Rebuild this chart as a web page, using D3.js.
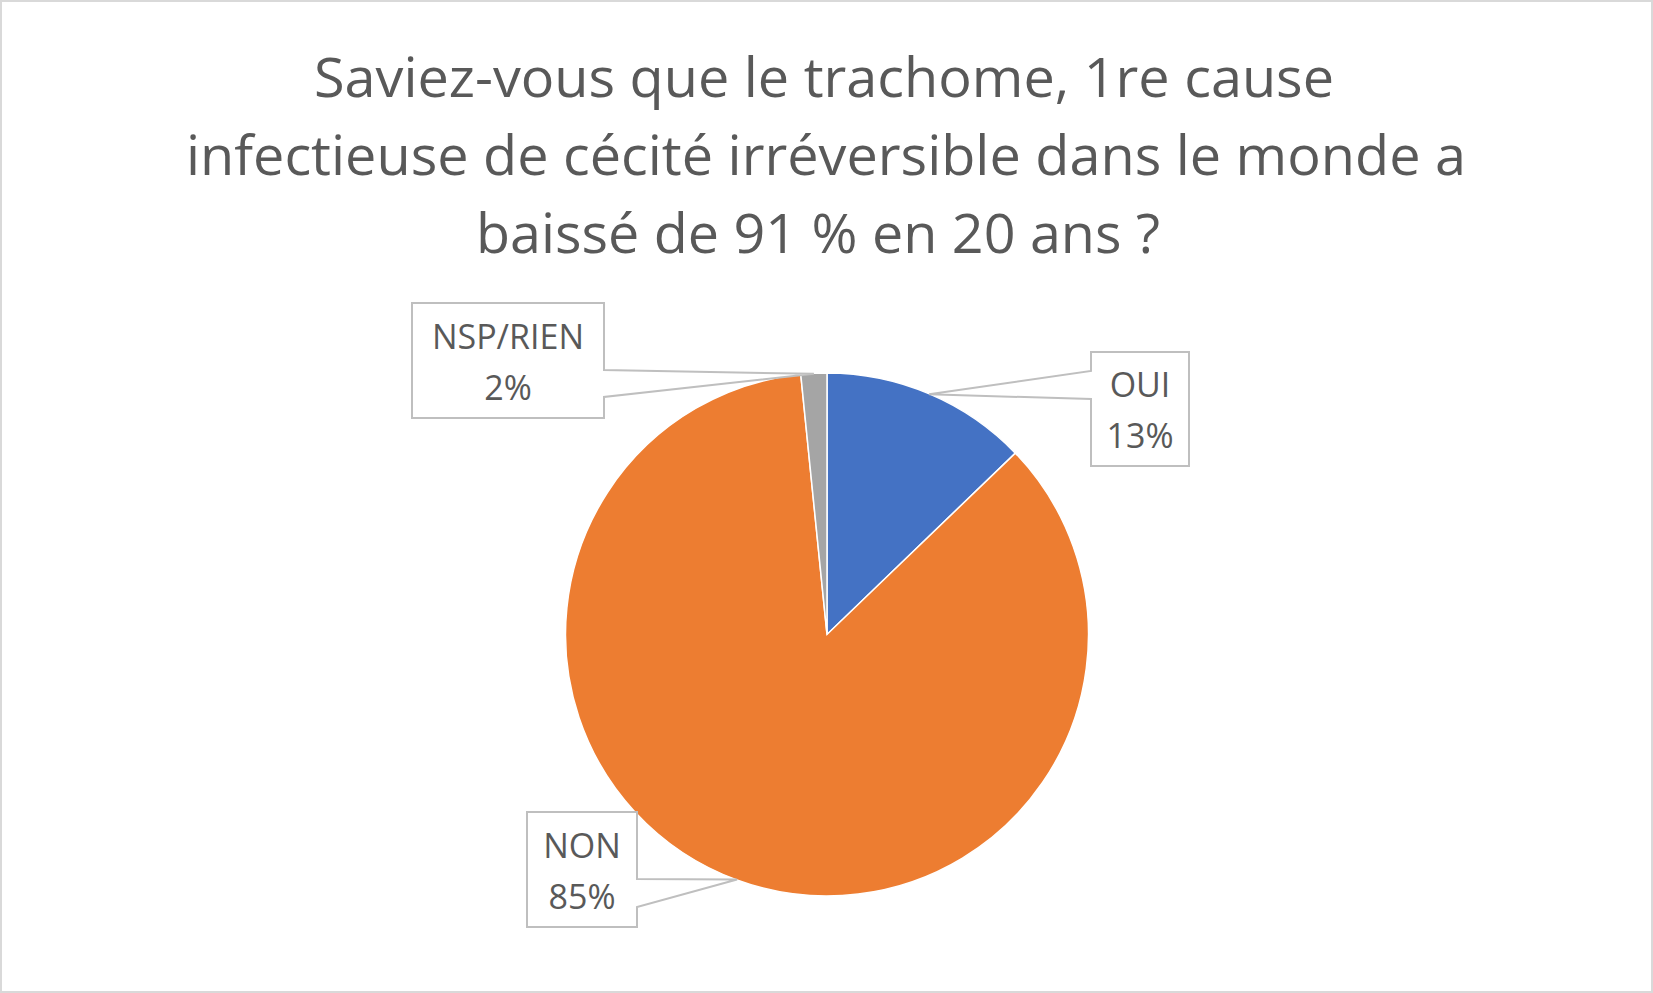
<!DOCTYPE html>
<html><head><meta charset="utf-8">
<script src="https://cdn.jsdelivr.net/npm/d3@7"></script>
<style>html,body{margin:0;padding:0;background:#fff}svg{display:block}</style>
</head><body>
<script>
const categories = ["OUI", "NON", "NSP/RIEN"];
const values = [12.8, 85.6, 1.6];
const percentLabels = ["13%", "85%", "2%"];
const colors = ["#4472C4", "#ED7D31", "#A5A5A5"];
const titleLines = [
  "Saviez-vous que le trachome, 1re cause",
  "infectieuse de cécité irréversible dans le monde a",
  "baissé de 91 % en 20 ans ?"
];

const W = 1653, H = 993;
const cx = 827, cy = 634.5, R = 261.5;
const svg = d3.select("body").append("svg").attr("width", W).attr("height", H);
svg.append("rect").attr("x", 1).attr("y", 1).attr("width", W - 2).attr("height", H - 2)
  .attr("fill", "#fff").attr("stroke", "#d9d9d9").attr("stroke-width", 2);

// title
const titleX = [314, 186, 476];
const titleLen = [1020, 1280, 684];
const titleBase = [97, 175, 253];
svg.append("g").selectAll("text").data(titleLines).join("text")
  .attr("x", (d, i) => titleX[i]).attr("y", (d, i) => titleBase[i])
  .attr("text-anchor", "start")
  .attr("textLength", (d, i) => titleLen[i]).attr("lengthAdjust", "spacingAndGlyphs")
  .attr("font-family", "'Open Sans', sans-serif").attr("font-size", 54)
  .attr("fill", "#595959").text(d => d);

const data = categories.map((c, i) => ({cat: c, value: values[i], label: percentLabels[i], color: colors[i]}));
const pie = d3.pie().sort(null).value(d => d.value).startAngle(0).endAngle(2 * Math.PI);
const arcs = pie(data);
const arc = d3.arc().innerRadius(0).outerRadius(R);
const g = svg.append("g").attr("transform", `translate(${cx},${cy})`);
g.selectAll("path").data(arcs).join("path")
  .attr("d", arc).attr("fill", d => d.data.color)
  .attr("stroke", "#fff").attr("stroke-width", 1.5);

// callout boxes: layout (box rect, side of pointer, pointer offsets from box top)
const layout = {
  "OUI":      {x0: 1091, y0: 352, x1: 1189, y1: 466, side: "left",  p0: 19, p1: 47},
  "NON":      {x0: 527,  y0: 812, x1: 637,  y1: 927, side: "right", p0: 67, p1: 95},
  "NSP/RIEN": {x0: 412,  y0: 303, x1: 604,  y1: 418, side: "right", p0: 67, p1: 94}
};
const anchorArc = d3.arc().innerRadius(R * 2 - 0.5).outerRadius(-0.5); // centroid at radius R-0.5
arcs.forEach(a => {
  const L = layout[a.data.cat];
  const c = anchorArc.centroid(a);
  const ax = cx + c[0], ay = cy + c[1];
  const p = d3.path();
  if (L.side === "right") {
    p.moveTo(L.x0, L.y0); p.lineTo(L.x1, L.y0); p.lineTo(L.x1, L.y0 + L.p0);
    p.lineTo(ax, ay); p.lineTo(L.x1, L.y0 + L.p1); p.lineTo(L.x1, L.y1);
    p.lineTo(L.x0, L.y1); p.closePath();
  } else {
    p.moveTo(L.x0, L.y0); p.lineTo(L.x1, L.y0); p.lineTo(L.x1, L.y1);
    p.lineTo(L.x0, L.y1); p.lineTo(L.x0, L.y0 + L.p1); p.lineTo(ax, ay);
    p.lineTo(L.x0, L.y0 + L.p0); p.closePath();
  }
  svg.append("path").attr("d", p.toString()).attr("fill", "#fff")
    .attr("stroke", "#bfbfbf").attr("stroke-width", 2).attr("stroke-linejoin", "miter");
  const mx = (L.x0 + L.x1) / 2, my = (L.y0 + L.y1) / 2;
  const t = svg.append("text").attr("text-anchor", "middle")
    .attr("font-family", "'Open Sans', sans-serif").attr("font-size", 34).attr("fill", "#595959");
  t.append("tspan").attr("x", mx).attr("y", my - 12).text(a.data.cat);
  t.append("tspan").attr("x", mx).attr("y", my + 39).text(a.data.label);
});
</script>
</body></html>
